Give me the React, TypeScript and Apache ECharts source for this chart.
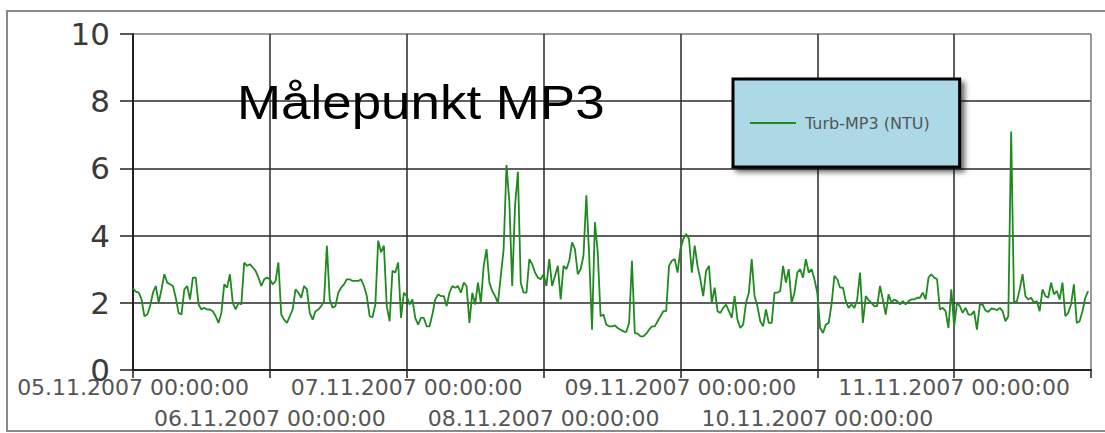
import React, { useEffect, useRef } from "react";
import * as echarts from "echarts";

// ---- data (Turb-MP3 (NTU), 30-min steps, one array per day) ----
const seriesName = "Turb-MP3 (NTU)";
const chartTitle = "Målepunkt MP3";

const day05 = [2.43, 2.33, 2.3, 2.1, 1.6, 1.65, 1.9, 2.3, 2.5, 2.0, 2.4, 2.85, 2.6, 2.55, 2.5, 2.15, 1.7, 1.65, 2.4, 2.5, 2.1, 2.75, 2.75, 1.95, 1.8, 1.85, 1.8, 1.8, 1.75, 1.6, 1.4, 1.7, 2.55, 2.45, 2.85, 2.0, 1.8, 2.0, 1.95, 3.2, 3.1, 3.15, 3.05, 2.95, 2.75, 2.5, 2.7, 2.75];
const day06 = [2.7, 2.55, 2.65, 3.2, 1.65, 1.5, 1.4, 1.6, 1.8, 2.4, 2.3, 2.15, 2.5, 2.4, 1.7, 1.5, 1.75, 1.8, 1.9, 2.05, 3.7, 2.1, 1.85, 1.9, 2.3, 2.45, 2.55, 2.7, 2.7, 2.65, 2.65, 2.65, 2.7, 2.5, 2.2, 1.6, 1.57, 1.95, 3.85, 3.5, 3.7, 1.9, 1.45, 2.95, 2.9, 3.2, 1.55, 2.3];
const day07 = [2.2, 1.95, 2.1, 1.55, 1.35, 1.55, 1.55, 1.3, 1.3, 1.65, 2.1, 2.25, 2.2, 2.2, 1.9, 2.3, 2.5, 2.45, 2.5, 2.3, 2.6, 2.5, 1.4, 2.3, 1.95, 2.6, 2.0, 3.1, 3.6, 2.6, 2.35, 2.2, 2.0, 2.8, 3.6, 6.1, 5.0, 2.5, 4.9, 5.9, 2.6, 2.3, 2.3, 3.3, 3.15, 2.9, 2.75, 2.7];
const day08 = [2.85, 2.5, 3.3, 2.5, 2.8, 3.1, 2.1, 3.1, 3.0, 3.25, 3.8, 3.6, 2.85, 3.0, 3.4, 5.2, 3.4, 1.2, 4.4, 3.5, 1.6, 1.65, 1.35, 1.3, 1.3, 1.33, 1.25, 1.2, 1.15, 1.13, 1.4, 3.25, 1.1, 1.08, 1.0, 1.0, 1.08, 1.2, 1.3, 1.3, 1.45, 1.6, 1.75, 1.75, 3.1, 3.25, 3.3, 2.9];
const day09 = [3.6, 3.9, 4.05, 3.9, 2.9, 3.7, 3.1, 2.7, 2.2, 2.95, 3.1, 2.0, 2.45, 1.75, 1.7, 1.85, 1.95, 1.75, 1.55, 2.2, 1.5, 1.25, 1.35, 2.0, 2.3, 3.3, 2.2, 1.9, 1.45, 1.3, 1.8, 1.4, 1.4, 2.3, 2.3, 2.35, 3.1, 2.6, 3.0, 2.0, 2.3, 2.9, 3.0, 2.75, 3.3, 2.9, 3.0, 2.7];
const day10 = [2.3, 1.25, 1.1, 1.35, 1.4, 1.95, 2.8, 2.7, 2.45, 2.45, 2.05, 1.85, 1.95, 1.85, 2.1, 2.9, 1.4, 2.2, 2.08, 2.0, 1.9, 1.9, 2.5, 2.1, 1.65, 2.25, 2.0, 2.1, 2.05, 1.95, 2.05, 1.95, 2.05, 2.1, 2.1, 2.15, 2.15, 2.3, 2.1, 2.75, 2.85, 2.75, 2.7, 1.8, 1.85, 1.75, 1.25, 2.4];
const day11 = [1.3, 2.0, 1.9, 1.7, 1.85, 1.65, 1.65, 1.75, 1.2, 1.95, 1.95, 1.77, 1.73, 1.83, 1.82, 1.78, 1.85, 1.75, 1.45, 1.6, 7.1, 2.0, 2.05, 2.4, 2.85, 2.2, 2.1, 2.15, 2.0, 2.05, 1.75, 2.4, 2.2, 2.15, 2.6, 2.25, 2.35, 2.1, 2.6, 1.6, 1.7, 1.95, 2.55, 1.4, 1.45, 1.75, 2.15, 2.35];

const dayArrays = [day05, day06, day07, day08, day09, day10, day11];

// tick label rows: upper row shows even day offsets, lower row odd ones
const upperRowDays = [0, 2, 4, 6];
const lowerRowDays = [1, 3, 5];

const START = Date.UTC(2007, 10, 5); // 05.11.2007 00:00:00
const DAY_MS = 86400000;
const STEP_MS = 30 * 60 * 1000;
const END = START + 7 * DAY_MS;

const yMin = 0;
const yMax = 10;
const yInterval = 2;

const pad = (n: number) => (n < 10 ? "0" + n : "" + n);
const fmtDate = (ms: number) => {
  const d = new Date(ms);
  return (
    pad(d.getUTCDate()) + "." + pad(d.getUTCMonth() + 1) + "." + d.getUTCFullYear() + " " +
    pad(d.getUTCHours()) + ":" + pad(d.getUTCMinutes()) + ":" + pad(d.getUTCSeconds())
  );
};

export default function App() {
  const ref = useRef<HTMLDivElement>(null);

  useEffect(() => {
    if (!ref.current) return;
    const chart = echarts.init(ref.current, undefined, { renderer: "svg" });

    const data: [number, number][] = [];
    dayArrays.forEach((vals, d) => {
      vals.forEach((v, i) => data.push([START + d * DAY_MS + i * STEP_MS, v]));
    });

    const labelStyle = {
      fontFamily: "DejaVu Sans",
      fontSize: 22,
      color: "#555555",
      hideOverlap: false,
      formatter: (val: number) => fmtDate(val),
    };

    chart.setOption({
      animation: false,
      backgroundColor: "#ffffff",
      grid: { left: 133, right: 14, top: 34, bottom: 63, containLabel: false },
      legend: {
        data: [{ name: seriesName, icon: "rect" }],
        left: 733,
        top: 79,
        selectedMode: false,
        padding: [36, 30, 36, 17],
        itemWidth: 46,
        itemHeight: 2,
        backgroundColor: "#add8e6",
        borderColor: "#000000",
        borderWidth: 3,
        shadowBlur: 5,
        shadowColor: "rgba(0,0,0,0.55)",
        shadowOffsetX: 4,
        shadowOffsetY: 4,
        textStyle: { fontFamily: "DejaVu Sans", fontSize: 16, color: "#555555", padding: [0, 0, 0, 4] },
      },
      xAxis: [
        {
          type: "value",
          min: START,
          max: END,
          interval: DAY_MS,
          position: "bottom",
          axisLine: { show: true, lineStyle: { color: "#222222", width: 2 } },
          axisTick: { show: true, length: 8, lineStyle: { color: "#222222", width: 1.5 } },
          splitLine: {
            show: true,
            lineStyle: { color: ["#2a2a2a", "#2a2a2a", "#2a2a2a", "#2a2a2a", "#2a2a2a", "#2a2a2a", "#2a2a2a", "#777777"], width: 1.5 },
          },
          axisLabel: {
            ...labelStyle,
            margin: 6,
            customValues: upperRowDays.map((d) => START + d * DAY_MS),
          },
        },
        {
          type: "value",
          min: START,
          max: END,
          interval: DAY_MS,
          position: "bottom",
          axisLine: { show: false },
          axisTick: { show: false },
          splitLine: { show: false },
          axisLabel: {
            ...labelStyle,
            margin: 37,
            customValues: lowerRowDays.map((d) => START + d * DAY_MS),
          },
        },
      ],
      yAxis: {
        type: "value",
        min: yMin,
        max: yMax,
        interval: yInterval,
        axisLine: { show: true, lineStyle: { color: "#222222", width: 2 } },
        axisTick: { show: true, length: 13, lineStyle: { color: "#222222", width: 1.5 } },
        splitLine: {
          show: true,
          lineStyle: { color: ["#2a2a2a", "#2a2a2a", "#2a2a2a", "#2a2a2a", "#2a2a2a", "#777777"], width: 1.5 },
        },
        axisLabel: {
          margin: 23,
          fontFamily: "DejaVu Sans",
          fontSize: 31,
          color: "#3a3a3a",
        },
      },
      series: [
        {
          name: seriesName,
          type: "line",
          xAxisIndex: 0,
          data,
          symbol: "none",
          showSymbol: false,
          lineStyle: { color: "#1f8a1f", width: 1.8 },
          itemStyle: { color: "#1f8a1f" },
          z: 3,
        },
      ],
      graphic: [
        {
          type: "rect",
          silent: true,
          z: -10,
          shape: { x: 7, y: 11, width: 1110, height: 420 },
          style: { fill: "none", stroke: "#8a8a8a", lineWidth: 2 },
        },
        {
          type: "text",
          silent: true,
          z: 10,
          x: 237,
          y: 102,
          scaleX: 1.08,
          style: {
            text: chartTitle,
            fontFamily: "Liberation Sans",
            fontSize: 49,
            fill: "#000000",
            align: "left",
            verticalAlign: "middle",
          },
        },
      ],
    });

    return () => chart.dispose();
  }, []);

  return (
    <div
      ref={ref}
      style={{ position: "absolute", left: 0, top: 0, width: 1105, height: 433 }}
    />
  );
}
